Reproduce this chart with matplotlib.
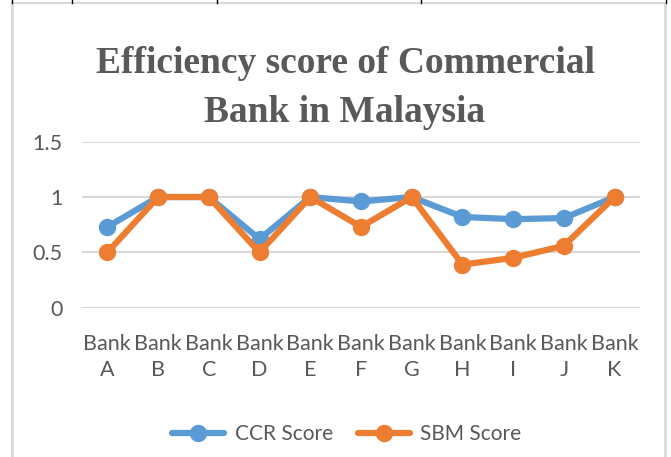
import matplotlib
matplotlib.use("Agg")
import matplotlib.pyplot as plt
from matplotlib.lines import Line2D

categories = ["Bank\nA", "Bank\nB", "Bank\nC", "Bank\nD", "Bank\nE", "Bank\nF",
              "Bank\nG", "Bank\nH", "Bank\nI", "Bank\nJ", "Bank\nK"]
ccr_score = [0.73, 1.0, 1.0, 0.62, 1.0, 0.96, 1.0, 0.82, 0.80, 0.81, 1.0]
sbm_score = [0.50, 1.0, 1.0, 0.50, 1.0, 0.73, 1.0, 0.39, 0.45, 0.56, 1.0]
y_ticks = [0, 0.5, 1, 1.5]
y_tick_labels = ["0", "0.5", "1", "1.5"]
title = "Efficiency score of Commercial\nBank in Malaysia"

W, H = 671, 457
fig = plt.figure(figsize=(W / 100, H / 100), dpi=100)
fig.patch.set_facecolor("white")

def fx(px):
    return px / W

def fy(py):
    return 1 - py / H

ax = fig.add_axes([fx(82), fy(307.7), fx(640) - fx(82), fy(141.7) - fy(307.7)])
x = list(range(len(categories)))

text_color = "#595959"
grid_color = "#d9d9d9"
blue = "#5B9BD5"
orange = "#ED7D31"

for yv in y_ticks:
    ax.axhline(yv, color=grid_color, lw=1.5, zorder=0)

ax.plot(x, ccr_score, color=blue, lw=4.5, marker="o", ms=11.5,
        solid_capstyle="round", label="CCR Score", zorder=3)
ax.plot(x, sbm_score, color=orange, lw=4.5, marker="o", ms=11.5,
        solid_capstyle="round", label="SBM Score", zorder=4)

ax.set_xlim(-0.5, len(categories) - 0.5)
ax.set_ylim(0, 1.5)
ax.set_yticks(y_ticks)
ax.set_yticklabels(y_tick_labels)
ax.set_xticks(x)
ax.set_xticklabels(categories, linespacing=1.35)
for s in ax.spines.values():
    s.set_visible(False)
ax.tick_params(axis="both", length=0, colors=text_color, labelsize=15.5)
ax.tick_params(axis="y", pad=14)
ax.tick_params(axis="x", pad=19)
for lab in ax.get_xticklabels() + ax.get_yticklabels():
    lab.set_family("Lato")
    lab.set_color(text_color)
ax.set_facecolor("none")

fig.text(fx(345), fy(88), title, ha="center", va="center",
         family="Liberation Serif", weight="bold", fontsize=27,
         color=text_color, linespacing=1.5)

leg = fig.legend(loc="center", bbox_to_anchor=(fx(347), fy(434)), ncol=2,
                 frameon=False, prop={"family": "Lato", "size": 15},
                 handlelength=2.5, columnspacing=1.2, handletextpad=0.5,
                 labelcolor=text_color)

# chart frame
fc = "#d9d9d9"
fig.add_artist(Line2D([fx(12), fx(12)], [fy(2.5), 0], transform=fig.transFigure, color=fc, lw=2))
fig.add_artist(Line2D([fx(665), fx(665)], [fy(2.5), 0], transform=fig.transFigure, color=fc, lw=2))
fig.add_artist(Line2D([fx(12), fx(665)], [fy(2.5), fy(2.5)], transform=fig.transFigure, color=fc, lw=1.5))
# table cell border fragments at the top
for px in [12, 72, 217, 421, 666]:
    fig.add_artist(Line2D([fx(px), fx(px)], [1, fy(2.5)], transform=fig.transFigure, color="black", lw=1))

fig.savefig("out.png", dpi=100, facecolor="white")
